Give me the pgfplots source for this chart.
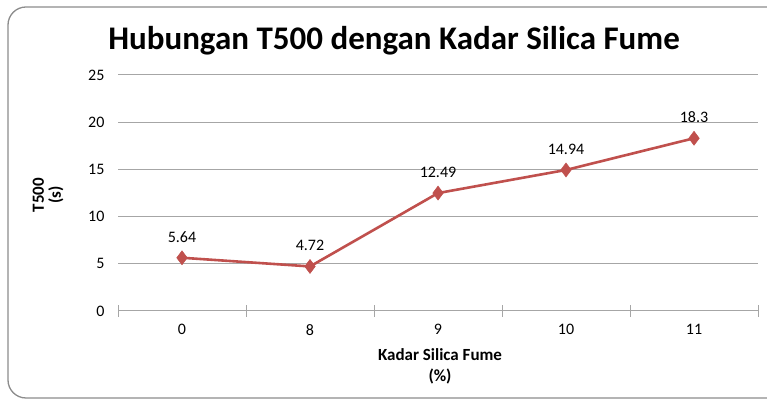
\documentclass[border=0pt]{standalone}
\usepackage{fontspec}
\setmainfont{Carlito}
\usepackage{pgfplots}
\pgfplotsset{compat=1.18}
\definecolor{linered}{HTML}{C0504D}
\definecolor{gridgray}{HTML}{A6A6A6}
\definecolor{framegray}{HTML}{8C8C8C}
\begin{document}
\begin{tikzpicture}[x=1pt,y=1pt]
\useasboundingbox (0,0) rectangle (767,403);
\fill[white] (0,0) rectangle (767,403);
\draw[framegray, line width=1.3pt, rounded corners=18pt] (8,5) rectangle (800,396);
\node[font=\fontsize{33}{38}\selectfont\bfseries] at (394,362) {Hubungan T500 dengan Kadar Silica Fume};
\node[font=\fontsize{17}{17}\selectfont\bfseries, rotate=90, align=center] at (48,208) {T500\\(s)};
\node[font=\fontsize{17}{21}\selectfont\bfseries, align=center] at (440,37) {Kadar Silica Fume\\(\%)};
\begin{axis}[
  at={(118pt,92pt)}, anchor=south west,
  scale only axis, width=640pt, height=236pt,
  xmin=-0.5, xmax=4.5, ymin=0, ymax=25,
  xtick={0,1,2,3,4}, xticklabels={0,8,9,10,11},
  minor xtick={-0.5,0.5,1.5,2.5,3.5,4.5},
  ytick={0,5,10,15,20,25},
  ymajorgrids, grid style={gridgray, line width=1pt},
  axis y line*=left,
  y axis line style={draw=none},
  axis x line*=bottom,
  x axis line style={gridgray, line width=1pt, -},
  major tick length=0pt,
  minor tick length=12pt,
  tick align=center,
  minor tick style={gridgray, line width=1pt},
  major tick style={draw=none},
  tick label style={font=\fontsize{16}{18}\selectfont},
  yticklabel style={xshift=-10pt},
  xticklabel style={yshift=-10pt},
  /pgf/number format/assume math mode=true,
  clip=false,
  nodes near coords,
  point meta=explicit symbolic,
  every node near coord/.append style={font=\fontsize{16}{18}\selectfont, black, yshift=12pt},
]
\addplot[linered, line width=2.6pt, mark=diamond*, mark size=7pt, mark options={solid, fill=linered, draw=linered, line width=0.5pt}]
  table[meta=lab] {
  x y lab
  0 5.64 5.64
  1 4.72 4.72
  2 12.49 12.49
  3 14.94 14.94
  4 18.3 18.3
  };
\end{axis}
\end{tikzpicture}
\end{document}
